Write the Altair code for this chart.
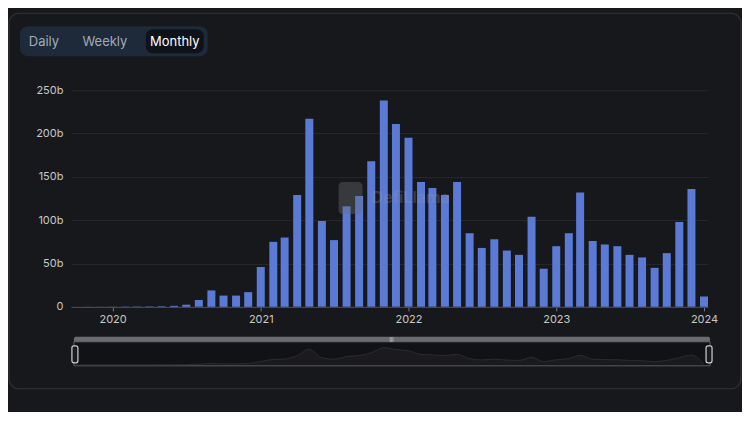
import altair as alt
import pandas as pd

# ---- data ----
months = [
    "2019-10-01", "2019-11-01", "2019-12-01",
    "2020-01-01", "2020-02-01", "2020-03-01", "2020-04-01", "2020-05-01", "2020-06-01",
    "2020-07-01", "2020-08-01", "2020-09-01", "2020-10-01", "2020-11-01", "2020-12-01",
    "2021-01-01", "2021-02-01", "2021-03-01", "2021-04-01", "2021-05-01", "2021-06-01",
    "2021-07-01", "2021-08-01", "2021-09-01", "2021-10-01", "2021-11-01", "2021-12-01",
    "2022-01-01", "2022-02-01", "2022-03-01", "2022-04-01", "2022-05-01", "2022-06-01",
    "2022-07-01", "2022-08-01", "2022-09-01", "2022-10-01", "2022-11-01", "2022-12-01",
    "2023-01-01", "2023-02-01", "2023-03-01", "2023-04-01", "2023-05-01", "2023-06-01",
    "2023-07-01", "2023-08-01", "2023-09-01", "2023-10-01", "2023-11-01", "2023-12-01",
    "2024-01-01",
]
volume_b = [
    0.05, 0.1, 0.1,
    0.2, 0.3, 0.4, 0.5, 0.7, 1.2, 2.5, 8, 19, 13, 13, 17,
    46, 75, 80, 129, 217, 99, 77, 116, 128, 168, 238, 211,
    195, 144, 137, 129, 144, 85, 68, 78, 65, 60, 104, 44,
    70, 85, 132, 76, 72, 70, 60, 57, 45, 62, 98, 136,
    12,
]
y_ticks = [0, 50, 100, 150, 200, 250]
x_domain = ["2019-09-20", "2024-01-11"]
buttons = ["Daily", "Weekly", "Monthly"]

df = pd.DataFrame({"month": months, "volume": volume_b})
one = pd.DataFrame({"k": [0]})

BG = "#17181c"
BAR = "#5b7ad6"
FONT = "Inter"

xscale = alt.Scale(type="utc", domain=x_domain, nice=False, padding=0)

# panel outline
panel = alt.Chart(one).mark_rect(
    fillOpacity=0, stroke="#303237", strokeWidth=1.2, cornerRadius=10
).encode(x=alt.value(-62), x2=alt.value(671), y=alt.value(-77), y2=alt.value(299))

# toggle buttons
btn_box = alt.Chart(one).mark_rect(color="#1e2939", cornerRadius=8).encode(
    x=alt.value(-51), x2=alt.value(137), y=alt.value(-64), y2=alt.value(-34))
btn_sel = alt.Chart(one).mark_rect(color="#0e1319", cornerRadius=7).encode(
    x=alt.value(75), x2=alt.value(133), y=alt.value(-61), y2=alt.value(-37))
btn_daily = alt.Chart(one).mark_text(
    text=buttons[0], font=FONT, fontSize=13, color="#a3abb7", align="center", baseline="middle"
).encode(x=alt.value(-27), y=alt.value(-48))
btn_weekly = alt.Chart(one).mark_text(
    text=buttons[1], font=FONT, fontSize=13, color="#a3abb7", align="center", baseline="middle"
).encode(x=alt.value(34), y=alt.value(-48))
btn_monthly = alt.Chart(one).mark_text(
    text=buttons[2], font=FONT, fontSize=13, color="#ffffff", align="center", baseline="middle"
).encode(x=alt.value(104), y=alt.value(-48))

# bars
bars = alt.Chart(df).mark_bar(color=BAR, size=8).encode(
    x=alt.X("month:T", scale=xscale, title=None,
            axis=alt.Axis(format="%Y", tickCount={"interval": "year", "step": 1},
                          grid=False, zindex=1)),
    y=alt.Y("volume:Q", title=None,
            scale=alt.Scale(domain=[0, 250], nice=False),
            axis=alt.Axis(values=y_ticks,
                          labelExpr="datum.value == 0 ? '0' : datum.value + 'b'",
                          grid=True, ticks=False, domain=False, zindex=0)),
)

# watermark
wm_logo = alt.Chart(one).mark_rect(color="#6a6b70", opacity=0.4, cornerRadius=4).encode(
    x=alt.value(268), x2=alt.value(292), y=alt.value(92), y2=alt.value(124))
wm_text = alt.Chart(one).mark_text(
    text="DefiLlama", font=FONT, fontSize=16, fontWeight="bold", color="#9a9ba0",
    opacity=0.25, align="left", baseline="middle"
).encode(x=alt.value(301), y=alt.value(108))

# navigator
nav_box = alt.Chart(one).mark_rect(fill="#111216", stroke="#5c5d62", strokeWidth=1).encode(
    x=alt.value(3), x2=alt.value(640), y=alt.value(252), y2=alt.value(276))
nav_top = alt.Chart(one).mark_rect(color="#6a6b70", cornerRadiusTopLeft=2, cornerRadiusTopRight=2).encode(
    x=alt.value(3), x2=alt.value(640), y=alt.value(247), y2=alt.value(252))
nav_grip = alt.Chart(one).mark_text(
    text="|||", fontSize=5, color="#e0e0e0", align="center", baseline="middle"
).encode(x=alt.value(321), y=alt.value(249.5))
nav_area = alt.Chart(df).mark_area(
    interpolate="monotone", color="#1f2024", line={"color": "#2a2b30", "strokeWidth": 1}
).encode(
    x=alt.X("month:T", scale=xscale),
    y=alt.Y("volume:Q", scale=alt.Scale(domain=[0, 250], range=[275, 257], nice=False), axis=None),
)
h_left = alt.Chart(one).mark_rect(fill="#1a1b1f", stroke="#d0d0d0", strokeWidth=1.2, cornerRadius=2).encode(
    x=alt.value(1), x2=alt.value(7), y=alt.value(256), y2=alt.value(273))
h_right = alt.Chart(one).mark_rect(fill="#1a1b1f", stroke="#d0d0d0", strokeWidth=1.2, cornerRadius=2).encode(
    x=alt.value(636), x2=alt.value(642), y=alt.value(256), y2=alt.value(273))

chart = alt.layer(
    panel, btn_box, btn_sel, btn_daily, btn_weekly, btn_monthly,
    bars, wm_logo, wm_text,
    nav_box, nav_top, nav_grip, nav_area, h_left, h_right,
).resolve_scale(y="independent").properties(
    width=638, height=217,
    background=BG,
    padding={"left": 0, "top": 4, "right": 0, "bottom": 22},
).configure_view(stroke=None).configure_axis(
    labelFont=FONT, labelFontSize=11, labelColor="#c8c8c8",
).configure_axisX(
    domainColor="#4d4e53", tickColor="#77787c", tickSize=4, labelPadding=3,
).configure_axisY(
    gridColor="#26282c", labelPadding=8,
)

chart.save("out.html", embed_options={"renderer": "svg", "actions": False})
